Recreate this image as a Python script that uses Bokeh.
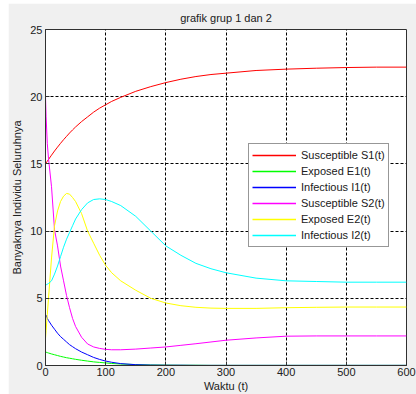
from bokeh.plotting import figure
from bokeh.models import Legend, LegendItem, Spacer, FixedTicker
from bokeh.layouts import column, row
from bokeh.embed import file_html
from bokeh.resources import INLINE

# time samples (t)
t = [0, 1, 3, 5, 10, 15, 20, 25, 30, 35, 40, 45, 50, 60, 70, 80, 90, 100, 110,
     125, 150, 175, 200, 225, 250, 275, 300, 350, 400, 450, 500, 550, 600]

# group 1
s1 = [15.0, 15.07, 15.2, 15.33, 15.65, 15.96, 16.25, 16.53, 16.8, 17.05, 17.3, 17.53, 17.75,
      18.15, 18.5, 18.85, 19.15, 19.4, 19.65, 19.95, 20.4, 20.75, 21.05, 21.3, 21.5, 21.65,
      21.75, 21.95, 22.05, 22.12, 22.17, 22.2, 22.2]
e1 = [1.0, 0.99, 0.96, 0.93, 0.86, 0.8, 0.74, 0.68, 0.63, 0.58, 0.54, 0.5, 0.46,
      0.39, 0.33, 0.27, 0.23, 0.19, 0.15, 0.11, 0.07, 0.04, 0.03, 0.02, 0.02, 0.01,
      0.01, 0.01, 0.01, 0.01, 0.01, 0.01, 0.01]
i1 = [3.8, 3.75, 3.5, 3.35, 3.0, 2.7, 2.4, 2.15, 1.95, 1.75, 1.55, 1.4, 1.25,
      1.0, 0.8, 0.6, 0.45, 0.33, 0.24, 0.14, 0.06, 0.03, 0.02, 0.02, 0.01, 0.01,
      0.01, 0.01, 0.01, 0.01, 0.01, 0.01, 0.01]

# group 2
s2 = [20.0, 18.5, 16.5, 15.4, 13.3, 10.1, 8.9, 7.4, 6.3, 5.2, 4.3, 3.5, 2.9,
      2.1, 1.6, 1.38, 1.27, 1.2, 1.17, 1.17, 1.22, 1.3, 1.38, 1.5, 1.62, 1.75,
      1.88, 2.05, 2.18, 2.2, 2.2, 2.2, 2.2]
e2 = [2.0, 2.6, 3.8, 5.0, 8.0, 10.4, 11.5, 12.2, 12.6, 12.8, 12.75, 12.5, 12.2,
      11.3, 10.0, 9.1, 8.2, 7.45, 6.9, 6.3, 5.6, 5.0, 4.65, 4.45, 4.33, 4.27,
      4.25, 4.25, 4.3, 4.33, 4.35, 4.35, 4.35]
i2 = [6.0, 6.0, 6.05, 6.1, 6.3, 6.8, 7.4, 8.1, 8.8, 9.4, 9.9, 10.4, 10.9,
      11.6, 12.1, 12.35, 12.4, 12.35, 12.2, 11.9, 11.1, 10.0, 8.9, 8.2, 7.6, 7.2,
      6.9, 6.5, 6.3, 6.25, 6.2, 6.2, 6.2]

series = [
    ("Susceptible S1(t)", s1, "#ff0000"),
    ("Exposed E1(t)", e1, "#00ff00"),
    ("Infectious I1(t)", i1, "#0000ff"),
    ("Susceptible S2(t)", s2, "#ff00ff"),
    ("Exposed E2(t)", e2, "#ffff00"),
    ("Infectious I2(t)", i2, "#00ffff"),
]

x_ticks = [0, 100, 200, 300, 400, 500, 600]
y_ticks = [0, 5, 10, 15, 20, 25]

FONT = "Liberation Sans"
BG = "#f0f0f0"
INK = "#202020"

p = figure(
    frame_width=361, frame_height=336,
    x_range=(0, 600), y_range=(0, 25),
    output_backend="svg", toolbar_location=None,
    min_border_left=37, min_border_right=10, min_border_top=26, min_border_bottom=29,
    background_fill_color="white", border_fill_color=BG,
    title="grafik grup 1 dan 2",
)
p.outline_line_color = "#303030"
p.outline_line_width = 1

p.title.align = "center"
p.title.text_font = FONT
p.title.text_font_size = "11px"
p.title.text_font_style = "normal"
p.title.text_color = INK
p.title.standoff = 11

for ax, ticks in ((p.xaxis, x_ticks), (p.yaxis, y_ticks)):
    ax.ticker = FixedTicker(ticks=ticks)
    ax.major_tick_in = 4
    ax.major_tick_out = 0
    ax.minor_tick_line_color = None
    ax.major_label_text_font = FONT
    ax.major_label_text_font_size = "11px"
    ax.major_label_text_color = INK
    ax.axis_label_text_font = FONT
    ax.axis_label_text_font_size = "11px"
    ax.axis_label_text_font_style = "normal"
    ax.axis_label_text_color = INK
    ax.axis_line_color = "#303030"
    ax.major_tick_line_color = "#303030"

p.xaxis.axis_label = "Waktu (t)"
p.xaxis.major_label_standoff = 2
p.xaxis.axis_label_standoff = 1
p.yaxis.axis_label = "Banyaknya Individu Seluruhnya"
p.yaxis.major_label_standoff = 3
p.yaxis.axis_label_standoff = 4

p.xgrid.ticker = FixedTicker(ticks=x_ticks)
p.ygrid.ticker = FixedTicker(ticks=y_ticks)
for g in (p.xgrid, p.ygrid):
    g.grid_line_color = "#000000"
    g.grid_line_dash = "3 2"
    g.grid_line_width = 1

items = []
for name, ys, color in series:
    p.line(t, ys, line_color=color, line_width=1)
    # zero-length companion line at the series' first point; it only supplies the legend swatch
    key = p.line([t[0], t[0]], [ys[0], ys[0]], line_color=color, line_width=1.5)
    items.append(LegendItem(label=name, renderers=[key]))

legend = Legend(items=items, location=(203, 118), padding=3, margin=0, spacing=0,
                glyph_width=44, glyph_height=16, label_height=16, label_standoff=5,
                label_text_font=FONT, label_text_font_size="11px", label_text_color=INK,
                background_fill_color="white", background_fill_alpha=1.0,
                border_line_color="#303030", border_line_width=1)
p.add_layout(legend, "center")

layout = column(Spacer(height=3), row(Spacer(width=8), p, spacing=0), spacing=0)

open("out.html", "w").write(file_html(layout, INLINE))
